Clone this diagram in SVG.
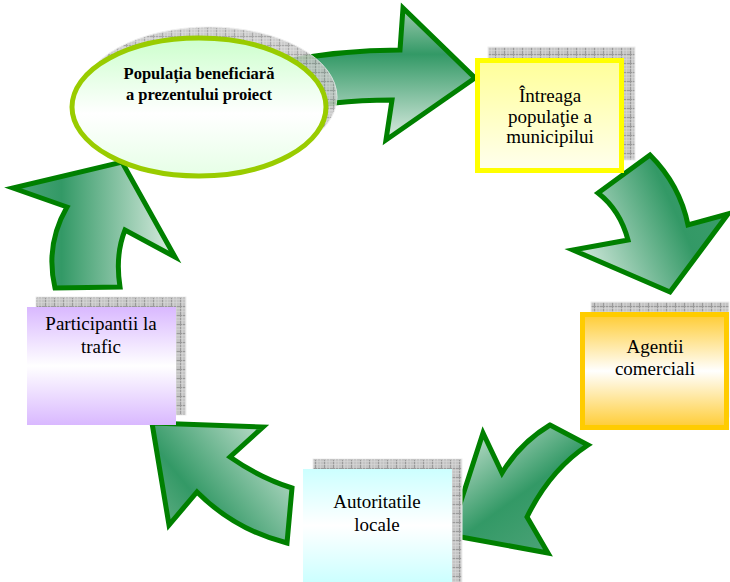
<svg xmlns="http://www.w3.org/2000/svg" width="730" height="582" viewBox="0 0 730 582">
<defs>
<pattern id="grid" width="9" height="9" patternUnits="userSpaceOnUse">
<rect width="9" height="9" fill="#c4c4c4"/>
<path d="M0 0.5H9M0.5 0V9" stroke="#9a9a9a" stroke-width="1"/>
<path d="M0 2.5H9M0 5.5H9M2.5 0V9M5.5 0V9" stroke="#d6d6d6" stroke-width="0.6"/>
</pattern>
<linearGradient id="g1" x1="0" y1="0" x2="0" y2="1"><stop offset="0" stop-color="#9fcbb0"/><stop offset="0.35" stop-color="#339966"/><stop offset="1" stop-color="#dcece2"/></linearGradient>
<linearGradient id="g2" x1="0" y1="0.8" x2="1" y2="0.4"><stop offset="0" stop-color="#e0efe6"/><stop offset="0.7" stop-color="#339966"/><stop offset="1" stop-color="#3a9c6a"/></linearGradient>
<linearGradient id="g3" x1="0.1" y1="0" x2="0.8" y2="0.9"><stop offset="0" stop-color="#d0e7d8"/><stop offset="0.6" stop-color="#339966"/><stop offset="1" stop-color="#4aa276"/></linearGradient>
<linearGradient id="g4" x1="1" y1="0" x2="0" y2="0.7"><stop offset="0" stop-color="#dcede2"/><stop offset="0.75" stop-color="#339966"/><stop offset="1" stop-color="#5aab80"/></linearGradient>
<linearGradient id="g5" x1="0" y1="0" x2="1" y2="0"><stop offset="0" stop-color="#4da47a"/><stop offset="0.3" stop-color="#339966"/><stop offset="1" stop-color="#dcede2"/></linearGradient>
<linearGradient id="gEll" x1="0" y1="0" x2="0" y2="1"><stop offset="0" stop-color="#ccffcc"/><stop offset="0.55" stop-color="#ffffff"/><stop offset="1" stop-color="#e6ffe6"/></linearGradient>
<linearGradient id="gYel" x1="0" y1="0" x2="0" y2="1"><stop offset="0" stop-color="#ffff99"/><stop offset="1" stop-color="#ffffee"/></linearGradient>
<linearGradient id="gOra" x1="0" y1="0" x2="0" y2="1"><stop offset="0" stop-color="#ffcc33"/><stop offset="0.5" stop-color="#ffffff"/><stop offset="1" stop-color="#ffcc33"/></linearGradient>
<linearGradient id="gCya" x1="0" y1="0" x2="0" y2="1"><stop offset="0" stop-color="#ccffff"/><stop offset="0.5" stop-color="#ffffff"/><stop offset="1" stop-color="#ccffff"/></linearGradient>
<linearGradient id="gLav" x1="0" y1="0" x2="0" y2="1"><stop offset="0" stop-color="#d9b8ff"/><stop offset="0.5" stop-color="#ffffff"/><stop offset="1" stop-color="#d9b8ff"/></linearGradient>
</defs>
<style>
.arr{stroke:#008000;stroke-width:5;stroke-linejoin:miter}
.shadow{fill:url(#grid);stroke:#eeeeee;stroke-width:1}
text{font-family:"Liberation Serif","Times New Roman","DejaVu Serif",serif}
.t{font-size:19px;fill:#000;text-anchor:middle}
.tb{font-size:16.5px;font-weight:bold;fill:#000;text-anchor:middle}
</style>
<g id="connectors">
<path class="arr" fill="url(#g1)" d="M280,62 Q340,50 400,50 L403,8 L475,78 L386,140 L392,100 Q330,100 285,112 Z"/>
<path class="arr" fill="url(#g2)" d="M650,155 Q680,185 688,225 L728,214 L670,292 L573,250 L628,240 Q620,210 598,193 Z"/>
<path class="arr" fill="url(#g3)" d="M550,425 L588,445 Q550,470 527,517 L548,553 L450,535 L483,433 L502,473 Q520,443 550,425 Z"/>
<path class="arr" fill="url(#g4)" d="M152,423 L263,427 L230,457 Q260,478 292,488 L287,543 Q235,530 197,492 L169,525 Z"/>
<path class="arr" fill="url(#g5)" d="M55,288 Q45,245 67,207 L13,188 L122,162 L175,257 L125,230 Q115,255 120,287 Z"/>
</g>
<g id="node-populatia">
<ellipse class="shadow" cx="209" cy="97" rx="128" ry="70" opacity="0.85"/>
<ellipse cx="199" cy="107" rx="127" ry="69" fill="url(#gEll)" stroke="#99cc00" stroke-width="5"/>
<text class="tb" x="199" y="79">Populația beneficiară</text>
<text class="tb" x="199" y="100">a prezentului proiect</text>
</g>
<g id="node-intreaga">
<rect class="shadow" x="488" y="47" width="147" height="113"/>
<rect x="477.5" y="60.5" width="144" height="110" fill="url(#gYel)" stroke="#ffff00" stroke-width="5"/>
<text class="t" x="550" y="102">Întreaga</text>
<text class="t" x="550" y="123">populaţie a</text>
<text class="t" x="550" y="143">municipilui</text>
</g>
<g id="node-agentii">
<rect class="shadow" x="591" y="302" width="138" height="115"/>
<rect x="582.5" y="314.5" width="144" height="113" fill="url(#gOra)" stroke="#ffcc00" stroke-width="5"/>
<text class="t" x="655" y="353">Agentii</text>
<text class="t" x="655" y="375">comerciali</text>
</g>
<g id="node-autoritatile">
<rect class="shadow" x="313" y="459" width="149" height="125"/>
<rect x="303" y="469" width="149" height="113" fill="url(#gCya)"/>
<text class="t" x="377" y="508">Autoritatile</text>
<text class="t" x="377" y="531">locale</text>
</g>
<g id="node-participantii">
<rect class="shadow" x="36" y="297" width="150" height="118"/>
<rect x="27" y="307" width="149" height="118" fill="url(#gLav)"/>
<text class="t" x="101" y="330">Participantii la</text>
<text class="t" x="101" y="353">trafic</text>
</g>
</svg>
